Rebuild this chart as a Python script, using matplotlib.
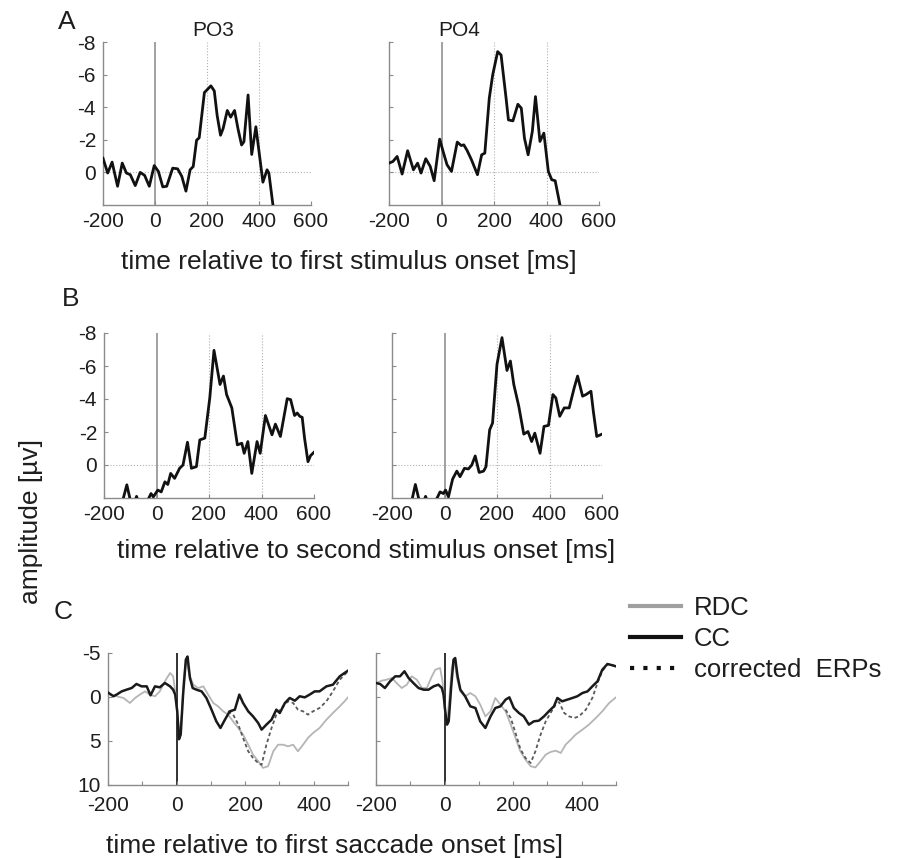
import matplotlib
matplotlib.use("Agg")
import matplotlib.pyplot as plt
from matplotlib.lines import Line2D

plt.rcParams['font.family'] = ['Liberation Sans', 'DejaVu Sans']
plt.rcParams['axes.unicode_minus'] = False

# ---- panel A: time relative to first stimulus onset ----
a_po3_t = [-200, -182, -165, -144, -126, -110, -95, -76, -57, -40, -22, -3, 13, 30, 45, 68, 87, 103, 119, 135,
           147, 160, 170, 190, 215, 228, 239, 252, 262, 278, 291, 306, 319, 333, 342, 358, 372, 388, 415, 431,
           438, 456]
a_po3_v = [-0.87, 0.04, -0.63, 0.85, -0.57, 0.04, 0.14, 0.81, 0.0, 0.18, 0.85, -0.42, -0.06, 0.89, 0.85, -0.26,
           -0.22, 0.24, 1.15, -0.16, -0.36, -1.98, -2.12, -4.9, -5.31, -5.0, -3.5, -2.28, -2.69, -3.8, -3.39,
           -3.8, -2.69, -1.68, -1.88, -4.75, -1.1, -2.8, 0.6, -0.16, 0.04, 2.3]

a_po4_t = [-200, -185, -169, -150, -129, -107, -91, -78, -60, -43, -28, -7, 8, 21, 38, 60, 75, 85, 98, 114,
           137, 153, 165, 182, 195, 214, 227, 246, 255, 272, 291, 304, 316, 330, 346, 358, 375, 390, 407, 420,
           433, 455]
a_po4_v = [-0.57, -0.67, -0.98, 0.1, -1.33, -0.16, -0.57, 0.04, -0.84, -0.37, 0.51, -2.04, -1.18, -0.47, -0.06,
           -1.86, -1.65, -1.69, -1.33, -0.78, 0.14, -1.08, -1.18, -4.55, -5.98, -7.41, -7.2, -4.55, -3.22, -3.16,
           -4.18, -3.94, -2.1, -1.08, -2.51, -4.65, -1.9, -2.41, -0.06, 0.45, 0.51, 2.3]

# ---- panel B: time relative to second stimulus onset ----
b_po3_t = [-200, -140, -127, -113, -101, -90, -76, -66, -45, -27, -21, -12, 5, 18, 32, 43, 54, 69, 88, 101,
           118, 133, 152, 165, 184, 203, 219, 242, 255, 267, 287, 308, 325, 334, 348, 363, 383, 395, 415, 427,
           440, 453, 472, 498, 511, 526, 536, 546, 555, 564, 577, 587, 600]
b_po3_v = [3.2, 2.8, 2.05, 1.2, 2.05, 2.6, 1.9, 2.4, 2.5, 1.93, 1.73, 1.93, 1.52, 1.63, 1.02, 1.18, 0.51, 0.81,
           0.2, 0.0, -1.38, 0.2, 0.1, -1.52, -1.63, -4.07, -6.95, -4.88, -5.39, -4.27, -3.46, -1.22, -1.32,
           -0.71, -1.42, 0.51, -1.42, -0.71, -3.0, -2.44, -1.83, -2.48, -1.73, -4.02, -3.96, -3.0, -3.15, -2.95,
           -2.89, -1.63, -0.2, -0.57, -0.77]

b_po4_t = [-200, -140, -123, -111, -98, -88, -72, -62, -45, -26, -17, -4, 4, 15, 31, 47, 59, 76, 91, 104,
           117, 132, 149, 158, 172, 183, 200, 219, 238, 251, 264, 283, 302, 318, 332, 344, 364, 379, 396, 413,
           424, 439, 456, 475, 494, 507, 526, 539, 558, 567, 580, 600]
b_po4_v = [3.2, 2.8, 2.05, 1.18, 2.05, 2.6, 1.9, 2.4, 2.5, 1.93, 1.63, 1.73, 1.52, 1.93, 0.85, 0.37, 0.71, 0.2,
           0.24, 0.0, -0.55, 0.45, 0.37, 0.1, -2.13, -2.54, -6.1, -7.72, -5.73, -6.3, -4.88, -3.56, -1.87, -2.03,
           -1.42, -1.93, -0.71, -2.34, -2.4, -4.27, -4.07, -2.95, -3.46, -3.46, -4.67, -5.39, -4.17, -4.27,
           -4.47, -3.25, -1.73, -1.87]

# ---- panel C: time relative to first saccade onset ----
c_po3_cc_t = [-200, -184, -175, -160, -146, -131, -117, -102, -87, -76, -63, -49, -34, -19, -10, -4, 2, 7, 12,
              19, 27, 32, 39, 47, 58, 73, 87, 102, 116, 128, 141, 155, 170, 183, 194, 209, 223, 238, 248, 262,
              277, 291, 301, 316, 330, 345, 359, 374, 388, 403, 417, 437, 456, 476, 490, 500]
c_po3_cc_v = [-0.5, -0.08, -0.27, -0.64, -0.83, -1.02, -1.48, -1.21, -1.21, -0.19, -1.21, -1.1, -1.59, -1.21,
              -0.83, -0.27, 1.63, 4.8, 4.28, -0.27, -4.24, -4.6, -2.16, -1.02, -0.83, -0.64, 0.11, 1.44, 2.77,
              3.52, 2.58, 1.63, 1.44, -0.27, 0.68, 1.63, 2.2, 2.95, 3.71, 3.14, 2.58, 1.44, 1.82, 0.68, 0.11,
              0.42, -0.08, 0.04, -0.27, -0.64, -0.64, -1.21, -1.4, -2.35, -2.73, -2.99]
c_po3_rdc_t = [-200, -175, -155, -136, -121, -107, -92, -78, -63, -49, -34, -19, -10, -4, 2, 7, 15, 21, 29, 37,
               49, 63, 78, 92, 107, 121, 136, 150, 165, 180, 194, 209, 223, 238, 252, 267, 282, 296, 311, 325,
               340, 354, 369, 383, 398, 417, 437, 456, 476, 490, 500]
c_po3_rdc_v = [-0.4, -0.08, 0.11, 0.68, 0.11, -0.27, -0.64, -0.27, -0.08, -0.64, -1.78, -2.73, -2.35, -0.64,
               2.0, 4.28, 2.0, -2.16, -4.24, -2.54, -1.4, -1.02, -1.21, -0.27, 0.68, 1.06, 1.63, 2.0, 2.77, 3.52,
               4.28, 5.42, 6.55, 7.3, 8.05, 7.87, 6.17, 5.42, 5.42, 5.61, 5.42, 6.17, 5.42, 4.66, 4.09, 3.52,
               2.58, 1.82, 1.06, 0.49, 0.04]
c_po3_corr_t = [150, 165, 180, 194, 209, 223, 238, 248, 262, 277, 291, 306, 325, 340, 354, 369, 383, 398, 417,
                437, 456, 476, 490, 500]
c_po3_corr_v = [1.63, 2.0, 3.14, 4.66, 6.17, 6.93, 7.5, 7.7, 5.42, 3.52, 2.0, 1.25, 0.49, 0.68, 1.44, 1.63,
                2.0, 1.63, 1.25, 0.49, -0.64, -1.97, -2.54, -2.92]

c_po4_cc_t = [-200, -188, -174, -159, -144, -130, -117, -105, -91, -76, -61, -47, -32, -18, -8, -3, 2, 7, 12,
              19, 26, 31, 38, 46, 60, 75, 90, 104, 119, 134, 148, 163, 178, 189, 202, 217, 231, 246, 260, 275,
              290, 304, 319, 329, 343, 358, 373, 387, 402, 417, 431, 446, 460, 475, 490, 500]
c_po4_cc_v = [-1.59, -1.48, -1.02, -1.78, -2.35, -2.35, -2.92, -2.16, -1.59, -1.02, -0.83, -0.83, -1.21, -1.4,
              -1.02, -0.27, 1.63, 3.14, 2.77, -1.02, -4.24, -4.43, -2.35, -0.83, -0.08, 1.06, 1.25, 2.77, 3.52,
              2.2, 1.25, 1.06, 0.3, 0.04, 1.25, 1.82, 2.2, 3.14, 2.77, 2.69, 2.2, 1.63, 1.06, 0.11, 0.49, 0.3,
              0.11, -0.08, -0.45, -0.64, -1.21, -1.78, -3.1, -3.75, -3.6, -3.48]
c_po4_rdc_t = [-200, -183, -169, -154, -140, -125, -110, -96, -81, -66, -52, -37, -27, -13, -6, 0, 7, 14, 21,
               28, 36, 46, 60, 75, 90, 104, 119, 134, 148, 163, 178, 193, 207, 221, 236, 251, 265, 280, 295,
               309, 324, 339, 353, 368, 382, 402, 421, 441, 460, 480, 500]
c_po4_rdc_v = [-1.59, -1.86, -1.97, -2.16, -1.59, -1.02, -1.4, -2.35, -1.97, -1.02, -1.02, -2.35, -3.1, -3.3,
               -1.78, 1.25, 2.95, 0.11, -3.3, -4.24, -2.16, -0.64, -0.08, -0.45, -0.08, 0.87, 2.2, 1.63, 0.11,
               0.87, 1.63, 3.14, 4.66, 6.17, 7.12, 7.87, 8.0, 7.3, 6.55, 6.25, 6.1, 6.36, 5.42, 4.85, 4.28, 3.71,
               3.14, 2.39, 1.63, 0.68, 0.04]
c_po4_corr_t = [178, 193, 207, 221, 236, 251, 265, 280, 295, 309, 324, 334, 349, 363, 378, 392, 412, 431, 446,
                460, 475, 490, 500]
c_po4_corr_v = [1.44, 2.39, 4.09, 5.9, 6.93, 7.5, 6.17, 4.28, 2.77, 1.82, 0.87, 0.57, 1.82, 2.2, 2.39, 2.2,
                1.44, 0.11, -1.59, -2.92, -3.75, -3.6, -3.48]

ab_yticks = [-8, -6, -4, -2, 0]
ab_xticks = [-200, 0, 200, 400, 600]
c_yticks = [-5, 0, 5, 10]
c_xticks = [-200, -100, 0, 100, 200, 300, 400, 500]
c_xticklabels = ["-200", "", "0", "", "200", "", "400", ""]

W, H = 898, 858
SPINE = "#8a8a8a"
TXT = "#1e1e1e"


def box(left, top, right, bottom):
    return [left / W, 1 - bottom / H, (right - left) / W, (bottom - top) / H]


def base_style(ax):
    for s in ("top", "right"):
        ax.spines[s].set_visible(False)
    for s in ("left", "bottom"):
        ax.spines[s].set_color(SPINE)
        ax.spines[s].set_linewidth(1.0)
    ax.tick_params(direction="in", length=3, width=0.8, colors=SPINE, labelcolor=TXT,
                   labelsize=15, pad=5)


def style_ab(ax, labels):
    base_style(ax)
    ax.set_xlim(-200, 600)
    ax.set_ylim(2, -8)
    ax.set_xticks(ab_xticks)
    ax.set_yticks(ab_yticks)
    if not labels:
        ax.set_yticklabels([])
    ax.axvline(0, color="#9a9a9a", lw=1.3, zorder=1)
    for x in (200, 400):
        ax.axvline(x, color="#b0b0b0", lw=0.8, ls=":", zorder=1)
    ax.axhline(0, color="#b0b0b0", lw=0.8, ls=":", zorder=1)


def style_c(ax, labels):
    base_style(ax)
    ax.set_xlim(-200, 500)
    ax.set_ylim(10, -5)
    ax.set_xticks(c_xticks)
    ax.set_xticklabels(c_xticklabels)
    ax.set_yticks(c_yticks)
    ax.tick_params(axis="x", pad=8)
    if not labels:
        ax.set_yticklabels([])
    ax.axvline(0, color="#222222", lw=1.3, zorder=1)


fig = plt.figure(figsize=(W / 100, H / 100), dpi=100)

ax = fig.add_axes(box(103, 42, 311, 205))
style_ab(ax, True)
ax.plot(a_po3_t, a_po3_v, color="#111111", lw=2.0, zorder=3)

ax = fig.add_axes(box(389, 42, 599, 205))
style_ab(ax, False)
ax.plot(a_po4_t, a_po4_v, color="#111111", lw=2.0, zorder=3)

ax = fig.add_axes(box(104, 333, 314, 498))
style_ab(ax, True)
ax.plot(b_po3_t, b_po3_v, color="#111111", lw=2.0, zorder=3)

ax = fig.add_axes(box(392, 333, 602, 498))
style_ab(ax, False)
ax.plot(b_po4_t, b_po4_v, color="#111111", lw=2.0, zorder=3)

ax = fig.add_axes(box(108, 653, 348, 785))
style_c(ax, True)
ax.plot(c_po3_rdc_t, c_po3_rdc_v, color="#b5b5b5", lw=1.3, zorder=2)
ax.plot(c_po3_corr_t, c_po3_corr_v, color="#5a5a5a", lw=1.3, ls=(0, (2, 1.5)), zorder=2)
ax.plot(c_po3_cc_t, c_po3_cc_v, color="#1a1a1a", lw=1.8, zorder=3)

ax = fig.add_axes(box(376, 653, 616, 785))
style_c(ax, False)
ax.plot(c_po4_rdc_t, c_po4_rdc_v, color="#b5b5b5", lw=1.3, zorder=2)
ax.plot(c_po4_corr_t, c_po4_corr_v, color="#5a5a5a", lw=1.3, ls=(0, (2, 1.5)), zorder=2)
ax.plot(c_po4_cc_t, c_po4_cc_v, color="#1a1a1a", lw=1.8, zorder=3)


def ftext(x, y, s, **kw):
    fig.text(x / W, 1 - y / H, s, ha="center", va="center", color=TXT, **kw)


ftext(67, 22, "A", fontsize=19)
ftext(71, 299, "B", fontsize=19)
ftext(63, 612, "C", fontsize=19)
ftext(213, 31, "PO3", fontsize=15)
ftext(459, 31, "PO4", fontsize=15)
ftext(349, 262, "time relative to first stimulus onset [ms]", fontsize=19)
ftext(366, 551, "time relative to second stimulus onset [ms]", fontsize=19)
ftext(335, 846, "time relative to first saccade onset [ms]", fontsize=19)
ftext(31, 522, "amplitude [µv]", fontsize=19, rotation=90)

handles = [Line2D([], [], color="#a0a0a0", lw=3),
           Line2D([], [], color="#111111", lw=3),
           Line2D([], [], color="#111111", lw=3, ls=(0, (1, 2.2)))]
fig.legend(handles, ["RDC", "CC", "corrected  ERPs"], loc="upper left",
           bbox_to_anchor=(630 / W, 1 - 596 / H), frameon=False, fontsize=18.5,
           handlelength=2.0, handletextpad=0.5, labelspacing=0.28, borderpad=0, borderaxespad=0,
           labelcolor=TXT)

fig.savefig("out.png", dpi=100)
plt.close(fig)
